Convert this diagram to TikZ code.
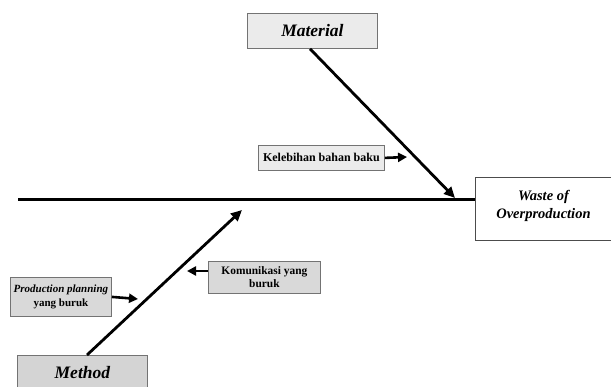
\documentclass[tikz,border=0pt]{standalone}
\usepackage{fontspec}
\setmainfont{Liberation Serif}
\usetikzlibrary{arrows.meta}
\begin{document}
\begin{tikzpicture}[x=1pt,y=-1pt,
  causebox/.style={draw=black!55, line width=0.8pt, fill=#1, inner sep=0pt, align=center},
  bone/.style={line width=2.8pt, -{Triangle[length=11pt,width=10pt]}},
  twig/.style={line width=2.6pt, -{Triangle[length=9pt,width=9pt]}},
  spine/.style={line width=3pt}]
  \useasboundingbox (0,0) rectangle (611,387);

  % effect box (head of the fishbone); text sits in the upper part
  \node[draw=black!70, line width=0.9pt, fill=white, minimum width=136pt, minimum height=63pt,
        anchor=north west, align=center, inner sep=0pt,
        font=\bfseries\itshape\fontsize{14.5}{18}\selectfont] (waste) at (475,177)
        {Waste of\\Overproduction\\[-8pt]\mbox{}};

  % main categories
  \node[causebox=black!8, minimum width=130pt, minimum height=35pt, anchor=north west,
        font=\bfseries\itshape\fontsize{17.5}{20}\selectfont] (material) at (247,13) {Material};
  \node[causebox=black!17, minimum width=130pt, minimum height=34pt, anchor=north west,
        font=\bfseries\itshape\fontsize{17.5}{20}\selectfont] (method) at (17,355) {Method};

  % sub-causes
  \node[causebox=black!8, minimum width=126pt, minimum height=25pt, anchor=north west,
        font=\bfseries\fontsize{12}{14}\selectfont] (kelebihan) at (258,145) {Kelebihan bahan baku};
  \node[causebox=black!15, minimum width=101pt, minimum height=39pt, anchor=north west,
        font=\bfseries\fontsize{11}{14}\selectfont] (planning) at (10,277)
        {\itshape Production planning\\yang buruk};
  \node[causebox=black!15, minimum width=112pt, minimum height=32pt, anchor=north west,
        font=\bfseries\fontsize{11.4}{13}\selectfont] (komunikasi) at (208,261)
        {Komunikasi yang\\buruk};

  % spine and bone end points
  \coordinate (tail) at (18,200);
  \coordinate (matend) at (455,198);
  \coordinate (metend) at (242,210);
  \coordinate (kelend) at (407,157);
  \coordinate (planend) at (138,299);
  \coordinate (komend) at (187,271);

  \draw[spine] (tail) -- (tail -| waste.west);
  \draw[bone] (material.south -| 310,0) -- (matend);
  \draw[bone] (method.north -| 87,0) -- (metend);
  \draw[twig] (kelebihan.east) -- (kelend);
  \draw[twig] (planning.east) -- (planend);
  \draw[twig] (komunikasi.west |- komend) -- (komend);
\end{tikzpicture}
\end{document}
